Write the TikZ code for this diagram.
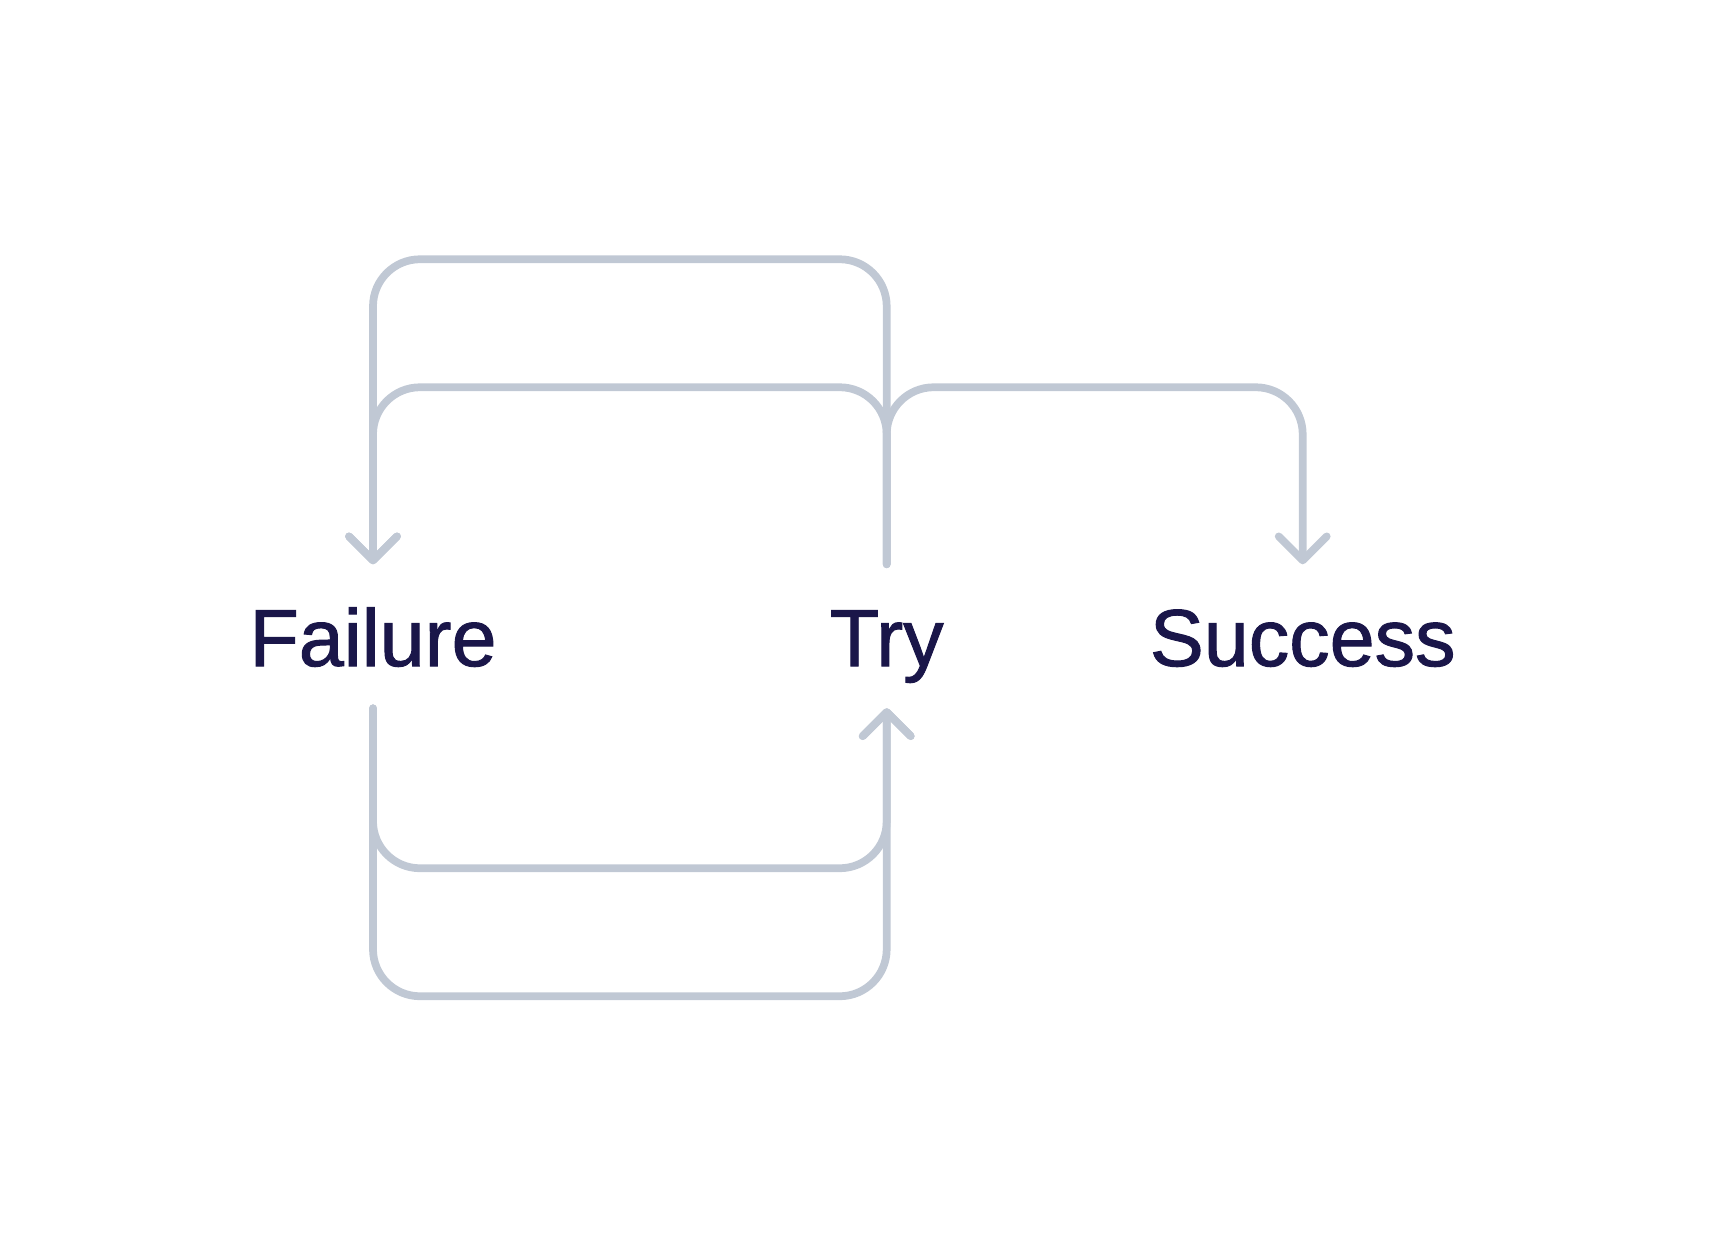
\documentclass[tikz,border=0pt]{standalone}
\usepackage{fontspec}
\usepackage{tikz}
\usetikzlibrary{arrows.meta}
\newfontfamily\labelfont{Liberation Sans}[FakeBold=1.2]
\definecolor{linegray}{HTML}{C0C8D4}
\definecolor{textnavy}{HTML}{1A1649}

\begin{document}
\begin{tikzpicture}[x=0.01cm, y=-0.01cm, every node/.style={anchor=base, inner sep=0pt, text height=1.01cm, text depth=0.415cm, text=textnavy, font=\labelfont\fontsize{23}{27}\selectfont}, flow/.style={draw=linegray, line width=2.2pt, line cap=round, line join=round, rounded corners=0.47cm, -{Straight Barb[length=2.4mm, width=4.8mm, round]}}]
      \useasboundingbox (0,0) rectangle (1712,1256);
      \node (failure) at (373,666) {Failure};
      \node (try) at (886.7,666) {Try};
      \node (success) at (1302.7,666) {Success};
      \draw[flow] (try.north) -- ++(0,-305) -| (failure.north);
      \draw[flow] (try.north) -- ++(0,-177) -| (failure.north);
      \draw[flow] (try.north) -- ++(0,-177) -| (success.north);
      \draw[flow] (failure.south) -- ++(0,160) -| (try.south);
      \draw[flow] (failure.south) -- ++(0,288) -| (try.south);
    \end{tikzpicture}
\end{document}
